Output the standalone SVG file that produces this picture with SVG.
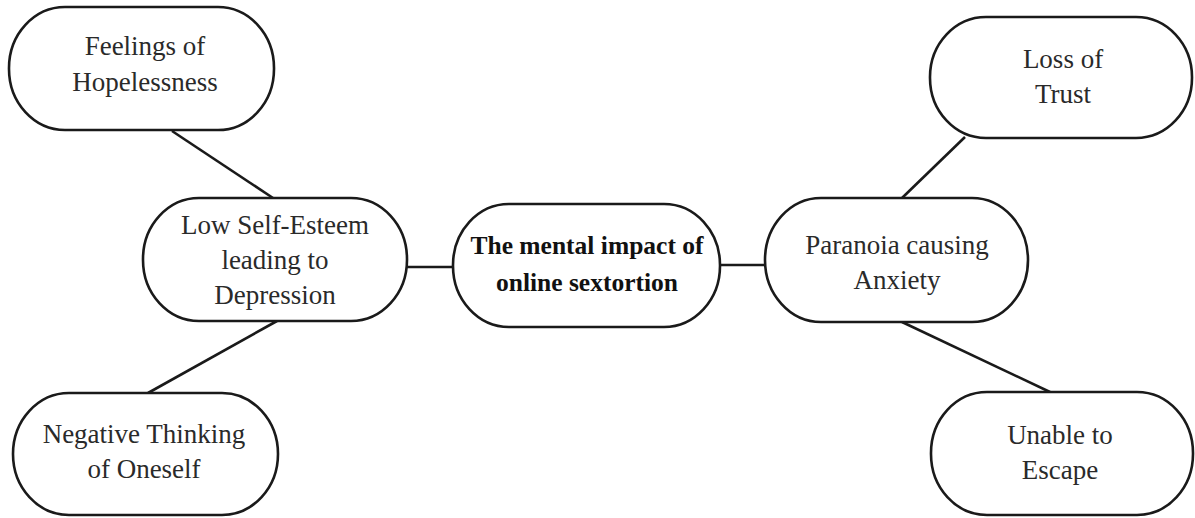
<svg xmlns="http://www.w3.org/2000/svg" width="1195" height="518" viewBox="0 0 1195 518">
<style>
.node{fill:#fff;stroke:#1a1a1a;stroke-width:2.6}
.edge{stroke:#1a1a1a;stroke-width:2.6;fill:none}
.t{font-family:"Liberation Serif","Times New Roman",serif;font-size:27px;fill:#2a2a2a;text-anchor:middle}
.b{font-family:"Liberation Serif","Times New Roman",serif;font-size:25.5px;font-weight:bold;fill:#111;text-anchor:middle}
</style>
<rect width="1195" height="518" fill="#fff"/>
<g id="connectors">
<line class="edge" x1="172" y1="131" x2="273" y2="198"/>
<line class="edge" x1="277" y1="321" x2="148" y2="393"/>
<line class="edge" x1="407" y1="267" x2="453" y2="267"/>
<line class="edge" x1="720" y1="265" x2="765" y2="265"/>
<line class="edge" x1="965" y1="137" x2="902" y2="198"/>
<line class="edge" x1="902" y1="322" x2="1050" y2="392"/>
</g>
<g id="n-hopelessness">
<rect class="node" x="9" y="7" width="265" height="123" rx="56" ry="61"/>
<text class="t" x="145" y="55">Feelings of</text>
<text class="t" x="145" y="91">Hopelessness</text>
</g>
<g id="n-selfesteem">
<rect class="node" x="143" y="198" width="264" height="123" rx="56" ry="61"/>
<text class="t" x="275" y="234">Low Self-Esteem</text>
<text class="t" x="275" y="269">leading to</text>
<text class="t" x="275" y="304">Depression</text>
</g>
<g id="n-center">
<rect class="node" x="453" y="204" width="267" height="123" rx="56" ry="61"/>
<text class="b" x="587" y="254">The mental impact of</text>
<text class="b" x="587" y="291">online sextortion</text>
</g>
<g id="n-paranoia">
<rect class="node" x="765" y="198" width="263" height="124" rx="56" ry="62"/>
<text class="t" x="897" y="254">Paranoia causing</text>
<text class="t" x="897" y="289">Anxiety</text>
</g>
<g id="n-trust">
<rect class="node" x="930" y="17" width="262" height="121" rx="56" ry="60"/>
<text class="t" x="1063" y="68">Loss of</text>
<text class="t" x="1063" y="103">Trust</text>
</g>
<g id="n-negative">
<rect class="node" x="13" y="393" width="265" height="122" rx="56" ry="61"/>
<text class="t" x="144" y="443">Negative Thinking</text>
<text class="t" x="144" y="478">of Oneself</text>
</g>
<g id="n-escape">
<rect class="node" x="931" y="392" width="262" height="123" rx="56" ry="61"/>
<text class="t" x="1060" y="444">Unable to</text>
<text class="t" x="1060" y="479">Escape</text>
</g>
</svg>
